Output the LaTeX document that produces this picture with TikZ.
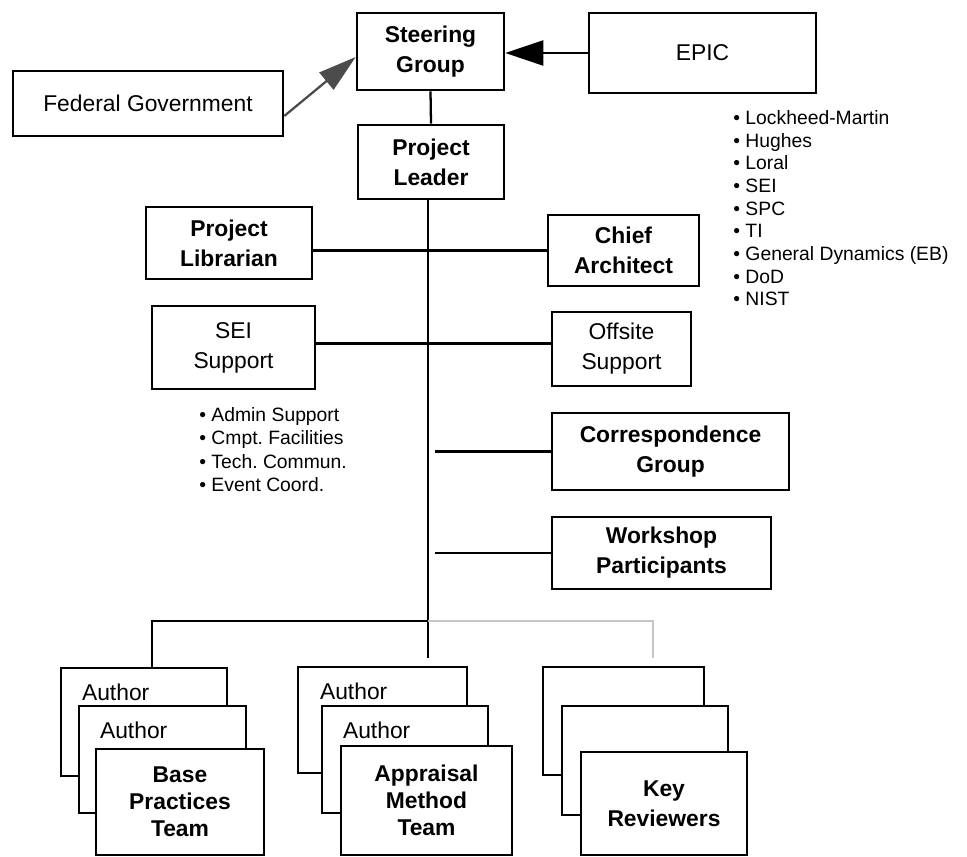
\documentclass[tikz,border=0pt]{standalone}
\usepackage{fontspec}
\setmainfont{Liberation Sans}
\usetikzlibrary{arrows.meta,calc}
\frenchspacing

\begin{document}
\begin{tikzpicture}[x=0.02cm,y=-0.02cm]
    % --- Styles ---
    \tikzset{
        org box/.style={
            draw=black,
            line width=1.5pt,
            fill=white,
            inner sep=0pt,
            align=center,
            font=\fontsize{13}{17}\selectfont
        },
        lead box/.style={org box, font=\fontsize{13}{17}\selectfont\bfseries},
        card/.style={draw=black, line width=1.5pt, fill=white, inner sep=0pt},
        team text/.style={align=center, font=\fontsize{13}{15.5}\selectfont\bfseries},
        author text/.style={anchor=north west, inner sep=0pt, font=\fontsize{13}{15}\selectfont},
        bullet list/.style={anchor=north west, inner sep=0pt, align=left},
        link/.style={line width=1.3pt},
        faint link/.style={line width=1.3pt, draw=gray!45}
    }

    % fixes the page to the reference size
    \useasboundingbox (0,0) rectangle (967,857);

    % =========================================================
    % 1) TOP: STEERING GROUP, EPIC, FEDERAL GOVERNMENT
    % =========================================================
    \node[lead box, minimum width=2.94cm, minimum height=1.54cm] (steer) at (430.5,51.5) {Steering\\Group};
    \node[org box, minimum width=4.54cm, minimum height=1.6cm] (epic) at (702.5,53) {EPIC};
    \node[org box, minimum width=5.4cm, minimum height=1.3cm] (fed) at (148,103.5) {Federal Government};

    \draw[link, -{Triangle[length=0.76cm, width=0.5cm]}] (epic.west) -- (epic.west -| steer.east);
    \draw[link, black!70, -{Triangle[length=0.76cm, width=0.44cm]}]
      ($(fed.east)+(0,12.5)$) -- ($(steer.west)+(0,5.5)$);

    % EPIC members
    \node[bullet list, font=\fontsize{11}{12.9}\selectfont] (members) at (733,110) {
        • Lockheed-Martin\\
        • Hughes\\
        • Loral\\
        • SEI\\
        • SPC\\
        • TI\\
        • General Dynamics (EB)\\
        • DoD\\
        • NIST
    };

    % =========================================================
    % 2) PROJECT LEADER AND THE MAIN SPINE
    % =========================================================
    \node[lead box, minimum width=2.92cm, minimum height=1.48cm] (leader) at (431,162) {Project\\Leader};
    \draw[link] (steer.south) -- (leader.north);

    \coordinate (spineEnd) at (428,658);
    \draw[link] (spineEnd |- leader.south) -- (spineEnd);

    % --- side boxes ---
    \node[lead box, minimum width=3.32cm, minimum height=1.44cm] (librarian) at (229,243) {Project\\Librarian};
    \node[lead box, minimum width=3.02cm, minimum height=1.42cm] (chief) at (623.5,250.5) {Chief\\Architect};
    \draw[link] (chief.west) -- (chief.west -| librarian.east);

    \node[org box, minimum width=3.26cm, minimum height=1.66cm] (sei) at (233.5,347.5) {SEI\\Support};
    \node[org box, minimum width=2.78cm, minimum height=1.48cm] (offsite) at (621.5,349) {Offsite\\Support};
    \draw[link] ($(sei.east)+(0,-4)$) -- ($(sei.east -| offsite.west)+(0,-4)$);

    \node[bullet list, font=\fontsize{11}{13.4}\selectfont] (seiTasks) at (199,407) {
        • Admin Support\\
        • Cmpt. Facilities\\
        • Tech. Commun.\\
        • Event Coord.
    };

    \node[lead box, minimum width=4.74cm, minimum height=1.54cm] (corr) at (670.5,451.5) {Correspondence\\Group};
    \node[lead box, minimum width=4.38cm, minimum height=1.44cm] (workshop) at (661.5,553) {Workshop\\Participants};
    \draw[link] ($(corr.west -| spineEnd)+(7,0)$) -- (corr.west);
    \draw[link] ($(workshop.west -| spineEnd)+(7,0)$) -- (workshop.west);

    % =========================================================
    % 3) BOTTOM BUS
    % =========================================================
    \coordinate (busL) at (152,621);
    \coordinate (busR) at (653,621);
    \coordinate (krDrop) at (653,658);
    \draw[faint link] (busL -| spineEnd) -- (busR) -- (krDrop);
    \draw[link] (busL -| spineEnd) -- (busL) -- (busL |- 0,668);

    % =========================================================
    % 4) TEAM STACKS (back to front)
    % =========================================================
    % --- Base Practices ---
    \node[card, minimum width=3.32cm, minimum height=2.16cm] (bp1) at (144,722) {};
    \node[author text] (bp1a) at ($(bp1.north west)+(22,17)$) {Author};
    \node[card, minimum width=3.34cm, minimum height=2.14cm] (bp2) at (162.5,759.5) {};
    \node[author text] (bp2a) at ($(bp2.north west)+(22,17)$) {Author};
    \node[card, team text, minimum width=3.36cm, minimum height=2.12cm] (bp3) at (180,802) {Base\\Practices\\Team};

    % --- Appraisal Method ---
    \node[card, minimum width=3.38cm, minimum height=2.12cm] (am1) at (382.5,720) {};
    \node[author text] (am1a) at ($(am1.north west)+(23,17)$) {Author};
    \node[card, minimum width=3.32cm, minimum height=2.14cm] (am2) at (405,759.5) {};
    \node[author text] (am2a) at ($(am2.north west)+(22,17)$) {Author};
    \node[card, team text, minimum width=3.42cm, minimum height=2.18cm] (am3) at (426.5,800.5) {Appraisal\\Method\\Team};

    % --- Key Reviewers ---
    \node[card, minimum width=3.22cm, minimum height=2.16cm] (kr1) at (623.5,721) {};
    \node[card, minimum width=3.32cm, minimum height=2.18cm] (kr2) at (645,760.5) {};
    \node[card, team text, font=\fontsize{13}{17}\selectfont\bfseries,
          minimum width=3.32cm, minimum height=2.06cm] (kr3) at (664,803.5) {Key\\Reviewers};

\end{tikzpicture}
\end{document}
